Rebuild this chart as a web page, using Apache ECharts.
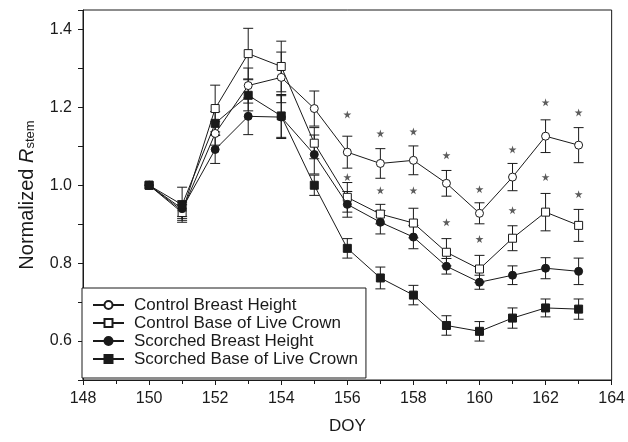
<!DOCTYPE html>
<html>
<head>
<meta charset="utf-8">
<title>Normalized Rstem</title>
<script src="https://cdn.jsdelivr.net/npm/echarts@6/dist/echarts.min.js"></script>
<style>
  html, body { margin: 0; padding: 0; background: #fff; }
  #chart { width: 628px; height: 442px; }
</style>
</head>
<body>
<div id="chart"></div>
<script>
// DOY
var doy = [150, 151, 152, 153, 154, 155, 156, 157, 158, 159, 160, 161, 162, 163]

// 各处理的均值与误差
var ctrlBreast = [1.0, 0.935, 1.133, 1.256, 1.277, 1.197, 1.085, 1.056, 1.064, 1.005, 0.928, 1.021, 1.126, 1.103]
var ctrlBreastErr = [0, 0.02, 0.03, 0.045, 0.065, 0.045, 0.041, 0.038, 0.037, 0.033, 0.027, 0.035, 0.042, 0.045]
var ctrlCrown = [1.0, 0.93, 1.197, 1.338, 1.305, 1.108, 0.969, 0.926, 0.903, 0.828, 0.785, 0.864, 0.931, 0.897]
var ctrlCrownErr = [0, 0.02, 0.06, 0.065, 0.065, 0.04, 0.038, 0.025, 0.038, 0.035, 0.035, 0.032, 0.048, 0.041]
var scorBreast = [1.0, 0.94, 1.092, 1.177, 1.175, 1.079, 0.951, 0.905, 0.867, 0.792, 0.751, 0.769, 0.787, 0.779]
var scorBreastErr = [0, 0.02, 0.036, 0.047, 0.055, 0.05, 0.033, 0.03, 0.03, 0.02, 0.018, 0.024, 0.027, 0.034]
var scorCrown = [1.0, 0.95, 1.159, 1.231, 1.178, 1.0, 0.838, 0.762, 0.718, 0.64, 0.625, 0.659, 0.685, 0.682]
var scorCrownErr = [0, 0.045, 0.03, 0.04, 0.055, 0.026, 0.025, 0.028, 0.025, 0.025, 0.025, 0.026, 0.023, 0.026]

// 显著性星号 (位置)
var starDoy = [156, 157, 158, 159, 160, 161, 162, 163]
var starBreast = [1.182, 1.133, 1.138, 1.077, 0.990, 1.092, 1.213, 1.187]
var starCrown = [1.021, 0.987, 0.987, 0.905, 0.862, 0.936, 1.021, 0.977]

// 坐标轴刻度标签
var yTickLabels = ['0.6', '0.8', '1.0', '1.2', '1.4']

var names = [
  'Control Breast Height',
  'Control Base of Live Crown',
  'Scorched Breast Height',
  'Scorched Base of Live Crown'
]

var FONT = "'Liberation Sans', Arial, Helvetica, sans-serif"
var INK = '#1a1a1a'
var STAR = 'path://M50,0 L61,35 L98,35 L68,57 L79,91 L50,70 L21,91 L32,57 L2,35 L39,35 Z'

function pairs(xs, ys) {
  return xs.map(function (x, i) { return [x, ys[i]] })
}

function triples(xs, ys, es) {
  return xs.map(function (x, i) { return [x, ys[i], es[i]] })
}

/* 误差棒 */
function renderErr(params, api) {
  var x = api.value(0)
  var y = api.value(1)
  var e = api.value(2)
  if (!e) return
  var top = api.coord([x, y + e])
  var bot = api.coord([x, y - e])
  var hw = 5
  var style = { stroke: INK, lineWidth: 1 }
  return {
    type: 'group',
    children: [
      { type: 'line', shape: { x1: top[0], y1: top[1], x2: bot[0], y2: bot[1] }, style: style },
      { type: 'line', shape: { x1: top[0] - hw, y1: top[1], x2: top[0] + hw, y2: top[1] }, style: style },
      { type: 'line', shape: { x1: bot[0] - hw, y1: bot[1], x2: bot[0] + hw, y2: bot[1] }, style: style }
    ]
  }
}

function lineSeries(name, vals, symbol, fill, z) {
  return {
    name: name,
    type: 'line',
    data: pairs(doy, vals),
    symbol: symbol,
    symbolSize: 8,
    showAllSymbol: true,
    z: z,
    lineStyle: { color: INK, width: 1 },
    itemStyle: { color: fill, borderColor: INK, borderWidth: 1, opacity: 1 },
    emphasis: { disabled: true }
  }
}

function errSeries(vals, errs, z) {
  return {
    type: 'custom',
    renderItem: renderErr,
    data: triples(doy, vals, errs),
    encode: { x: 0, y: 1 },
    z: z,
    silent: true
  }
}

function starSeries(vals) {
  return {
    type: 'scatter',
    data: pairs(starDoy, vals),
    symbol: STAR,
    symbolSize: 8,
    itemStyle: { color: '#333' },
    z: 5,
    silent: true
  }
}

var chart = echarts.init(document.getElementById('chart'))
chart.setOption({
  animation: false,
  backgroundColor: '#fff',
  textStyle: { fontFamily: FONT },
  grid: {
    left: 83,
    right: 16,
    top: 10,
    bottom: 62,
    show: true,
    borderColor: INK,
    borderWidth: 1,
    backgroundColor: 'transparent'
  },
  legend: {
    data: names,
    orient: 'vertical',
    left: 82,
    top: 288,
    padding: [8, 8, 10, 10],
    itemWidth: 31,
    itemHeight: 10,
    itemGap: 0,
    backgroundColor: '#fff',
    borderColor: INK,
    borderWidth: 1,
    borderRadius: 0,
    selectedMode: false,
    textStyle: { fontFamily: FONT, fontSize: 17, color: INK, lineHeight: 18, padding: [0, 0, 0, 5] }
  },
  xAxis: {
    type: 'value',
    min: 148,
    max: 164,
    interval: 2,
    name: 'DOY',
    nameLocation: 'middle',
    nameGap: 38,
    nameTextStyle: { fontFamily: FONT, fontSize: 17, color: INK },
    axisLine: { onZero: false, lineStyle: { color: INK, width: 1 } },
    axisTick: { show: true, inside: false, length: 5, lineStyle: { color: INK } },
    minorTick: { show: true, splitNumber: 2, length: 4, lineStyle: { color: INK } },
    splitLine: { show: false },
    axisLabel: { fontFamily: FONT, fontSize: 16, color: INK, margin: 11 }
  },
  yAxis: {
    type: 'value',
    min: 0.5,
    max: 1.45,
    interval: 0.1,
    name: '{n|Normalized }{r|R}{s|stem}',
    nameLocation: 'middle',
    nameGap: 41,
    nameRotate: 90,
    nameTextStyle: {
      fontFamily: FONT,
      color: INK,
      rich: {
        n: { fontFamily: FONT, fontSize: 20, color: INK, lineHeight: 25, verticalAlign: 'top' },
        r: { fontFamily: FONT, fontSize: 20, color: INK, fontStyle: 'italic', lineHeight: 25, verticalAlign: 'top' },
        s: { fontFamily: FONT, fontSize: 13, color: INK, lineHeight: 25, verticalAlign: 'top', padding: [7, 0, 0, 0] }
      }
    },
    axisLine: { onZero: false, lineStyle: { color: INK, width: 1 } },
    axisTick: { show: true, inside: false, length: 5, lineStyle: { color: INK } },
    splitLine: { show: false },
    axisLabel: {
      fontFamily: FONT,
      fontSize: 16,
      color: INK,
      margin: 11,
      formatter: function (v) {
        var s = v.toFixed(1)
        return yTickLabels.indexOf(s) >= 0 && Math.abs(v - parseFloat(s)) < 1e-6 ? s : ''
      }
    }
  },
  series: [
    errSeries(ctrlBreast, ctrlBreastErr, 2),
    errSeries(ctrlCrown, ctrlCrownErr, 2),
    errSeries(scorBreast, scorBreastErr, 2),
    errSeries(scorCrown, scorCrownErr, 2),
    lineSeries(names[0], ctrlBreast, 'circle', '#fff', 3),
    lineSeries(names[1], ctrlCrown, 'rect', '#fff', 3),
    lineSeries(names[2], scorBreast, 'circle', INK, 4),
    lineSeries(names[3], scorCrown, 'rect', INK, 4),
    starSeries(starBreast),
    starSeries(starCrown)
  ]
})
</script>
</body>
</html>
